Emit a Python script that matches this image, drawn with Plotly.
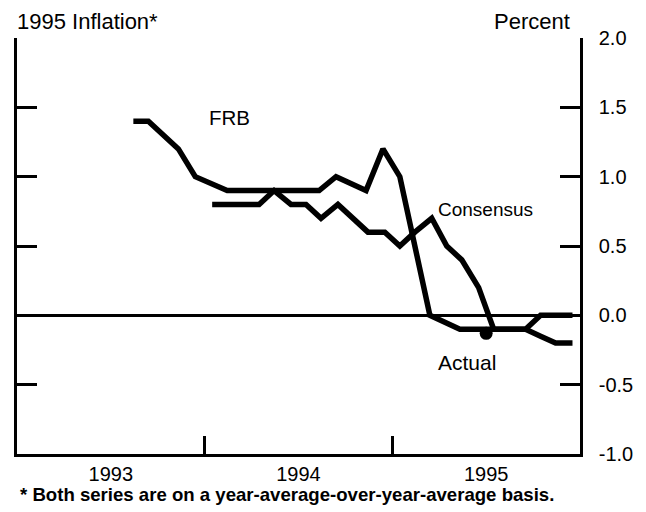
import plotly.graph_objects as go

# FRB forecast of 1995 inflation (decimal year, percent)
frb_x = [1993.62, 1993.70, 1993.86, 1993.95, 1994.12, 1994.28, 1994.45, 1994.61,
         1994.70, 1994.86, 1994.95, 1995.04, 1995.20, 1995.36, 1995.53, 1995.71,
         1995.79, 1995.96]
frb_y = [1.4, 1.4, 1.2, 1.0, 0.9, 0.9, 0.9, 0.9,
         1.0, 0.9, 1.2, 1.0, 0.0, -0.1, -0.1, -0.1,
         0.0, 0.0]

# Consensus forecast (monthly, mid-month)
cons_x = [1994.04, 1994.12, 1994.21, 1994.29, 1994.37, 1994.46, 1994.54, 1994.62,
          1994.71, 1994.79, 1994.87, 1994.96, 1995.04, 1995.12, 1995.21, 1995.29,
          1995.37, 1995.46, 1995.54, 1995.62, 1995.71, 1995.79, 1995.87, 1995.96]
cons_y = [0.8, 0.8, 0.8, 0.8, 0.9, 0.8, 0.8, 0.7,
          0.8, 0.7, 0.6, 0.6, 0.5, 0.6, 0.7, 0.5,
          0.4, 0.2, -0.1, -0.1, -0.1, -0.15, -0.2, -0.2]

actual_x = [1995.50]
actual_y = [-0.13]

year_ticks = [1993.5, 1994.5, 1995.5]
year_labels = ["1993", "1994", "1995"]
year_bounds = [1994, 1995]
y_ticks = [-1.0, -0.5, 0.0, 0.5, 1.0, 1.5, 2.0]
y_labels = ["-1.0", "-0.5", "0.0", "0.5", "1.0", "1.5", "2.0"]

FONT = "Liberation Sans, Arial, sans-serif"

fig = go.Figure()
fig.add_trace(go.Scatter(x=frb_x, y=frb_y, mode="lines",
                         line=dict(color="black", width=5.5), showlegend=False))
fig.add_trace(go.Scatter(x=cons_x, y=cons_y, mode="lines",
                         line=dict(color="black", width=5.5), showlegend=False))
fig.add_trace(go.Scatter(x=actual_x, y=actual_y, mode="markers",
                         marker=dict(color="black", size=13), showlegend=False))
# invisible trace on secondary axes so they render
fig.add_trace(go.Scatter(x=[1993.5], y=[0], xaxis="x2", yaxis="y2", mode="markers",
                         marker=dict(opacity=0), showlegend=False, hoverinfo="skip"))

# page body has an 8px default margin, so the figure is 8px smaller and offset
fig.update_layout(
    width=638, height=504,
    margin=dict(l=9, r=66, t=30, b=58, autoexpand=False),
    paper_bgcolor="white", plot_bgcolor="white",
    font=dict(family=FONT, size=19, color="black"),
    xaxis=dict(range=[1993, 1996], tickvals=year_ticks, ticktext=year_labels,
               ticks="", showgrid=False, zeroline=False, automargin=False,
               showline=True, linecolor="black", linewidth=2.5,
               tickfont=dict(size=20)),
    xaxis2=dict(range=[1993, 1996], overlaying="x", side="bottom",
                tickvals=year_bounds, ticks="inside", ticklen=18, tickwidth=3,
                tickcolor="black", showticklabels=False, showgrid=False,
                zeroline=False, showline=False, anchor="y", automargin=False),
    yaxis=dict(range=[-1, 2], side="right", tickvals=y_ticks, ticktext=y_labels,
               ticks="inside", ticklen=20, tickwidth=3, automargin=False,
               tickcolor="black", showgrid=False,
               showline=True, linecolor="black", linewidth=2.5, mirror="ticks",
               zeroline=True, zerolinecolor="black", zerolinewidth=2.5,
               tickfont=dict(size=20), ticklabelstandoff=12),
    yaxis2=dict(range=[-1, 2], overlaying="y", side="right", tickvals=[2.0],
                ticks="inside", ticklen=38, tickwidth=3, tickcolor="black",
                showticklabels=False, showgrid=False, zeroline=False,
                showline=False, mirror="ticks", anchor="x", automargin=False),
)

fig.add_annotation(text="1995 Inflation*", xref="paper", yref="paper",
                   x=-0.004, y=1.0, yshift=17, xanchor="left", yanchor="middle",
                   showarrow=False, font=dict(size=22))
fig.add_annotation(text="Percent", xref="paper", yref="paper",
                   x=0.986, y=1.0, yshift=17, xanchor="right", yanchor="middle",
                   showarrow=False, font=dict(size=22))
fig.add_annotation(text="FRB", x=1994.01, y=1.43, xanchor="left",
                   showarrow=False, font=dict(size=20.5))
fig.add_annotation(text="Consensus", x=1995.235, y=0.76, xanchor="left",
                   showarrow=False, font=dict(size=19))
fig.add_annotation(text="Actual", x=1995.235, y=-0.34, xanchor="left",
                   showarrow=False, font=dict(size=21))
fig.add_annotation(text="<b>* Both series are on a year-average-over-year-average basis.</b>",
                   xref="paper", yref="paper", x=0.002, y=0.0, yshift=-40,
                   xanchor="left", yanchor="middle", showarrow=False,
                   font=dict(size=18.6))

fig.write_html("out.html")
